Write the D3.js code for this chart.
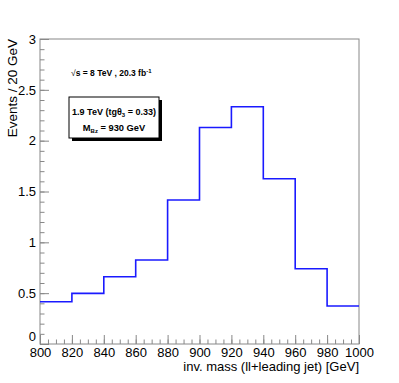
<!DOCTYPE html>
<html>
<head>
<meta charset="utf-8">
<script src="https://cdn.jsdelivr.net/npm/d3@7"></script>
<style>
  body { margin: 0; background: #fff; }
  text { font-family: "Liberation Sans", Arial, sans-serif; }
</style>
</head>
<body>
<svg id="chart" width="399" height="383"></svg>
<script>
// bin edges (GeV) and events per bin
const binEdges = [800, 820, 840, 860, 880, 900, 920, 940, 960, 980, 1000];
const events = [0.416, 0.498, 0.662, 0.826, 1.416, 2.13, 2.333, 1.625, 0.74, 0.374];

const yTicks = [0, 0.5, 1, 1.5, 2, 2.5, 3];
const yTickLabels = ["0", "0.5", "1", "1.5", "2", "2.5", "3"];
const xTicks = [800, 820, 840, 860, 880, 900, 920, 940, 960, 980, 1000];

const svg = d3.select("#chart");
const padL = 40, padR = 359, padT = 39, padB = 344;

const x = d3.scaleLinear().domain([800, 1000]).range([padL, padR]);
const y = d3.scaleLinear().domain([0, 3]).range([padB, padT]);

// frame
svg.append("rect")
  .attr("x", padL).attr("y", padT)
  .attr("width", padR - padL).attr("height", padB - padT)
  .attr("fill", "none").attr("stroke", "#888").attr("stroke-width", 1);

// minor ticks
svg.append("g").attr("transform", `translate(${padL},0)`)
  .call(d3.axisLeft(y).tickValues(d3.range(0, 3.001, 0.1)).tickSize(-4.5).tickFormat(""))
  .call(g => g.select(".domain").remove());
svg.append("g").attr("transform", `translate(0,${padB})`)
  .call(d3.axisBottom(x).tickValues(d3.range(800, 1000.1, 5)).tickSize(-4.5).tickFormat(""))
  .call(g => g.select(".domain").remove());

// major ticks + labels
const yAxis = svg.append("g").attr("transform", `translate(${padL},0)`)
  .call(d3.axisLeft(y).tickValues(yTicks).tickSize(-9).tickPadding(4)
    .tickFormat((d, i) => yTickLabels[i]));
yAxis.select(".domain").remove();

const xAxis = svg.append("g").attr("transform", `translate(0,${padB})`)
  .call(d3.axisBottom(x).tickValues(xTicks).tickSize(-9).tickPadding(4)
    .tickFormat(d3.format("d")));
xAxis.select(".domain").remove();

svg.selectAll(".tick line").attr("stroke", "#888");
svg.selectAll(".tick text").attr("font-size", 13).attr("fill", "#000")
  .attr("font-family", "Liberation Sans, Arial, sans-serif");
// lift the "0" so it sits above the 800 label
yAxis.selectAll(".tick text").filter(d => d === 0).attr("dy", "-0.3em");

// histogram step line
const pts = [];
events.forEach((v, i) => {
  pts.push([x(binEdges[i]), y(v)]);
  pts.push([x(binEdges[i + 1]), y(v)]);
});
svg.append("path")
  .attr("d", d3.line()(pts))
  .attr("fill", "none").attr("stroke", "#1a1aff").attr("stroke-width", 1.6);

// axis titles
svg.append("text")
  .attr("x", padR).attr("y", 371)
  .attr("text-anchor", "end").attr("font-size", 13)
  .text("inv. mass (ll+leading jet) [GeV]");

svg.append("text")
  .attr("transform", `translate(17,${padT}) rotate(-90)`)
  .attr("text-anchor", "end").attr("font-size", 13.5)
  .text("Events / 20 GeV");

// energy / lumi label
const lumi = svg.append("text")
  .attr("x", 71).attr("y", 76)
  .attr("font-size", 8.5).attr("font-weight", "bold");
lumi.append("tspan").attr("font-weight", "normal").text("\u221A");
lumi.append("tspan").text("s = 8 TeV , 20.3 fb");
lumi.append("tspan").attr("font-size", 6).attr("dy", -3.5).text("-1");

// box with shadow
const bx = 69, by = 97, bw = 90, bh = 41;
svg.append("rect").attr("x", bx + 3).attr("y", by + 3).attr("width", bw).attr("height", bh)
  .attr("fill", "#000");
svg.append("rect").attr("x", bx).attr("y", by).attr("width", bw).attr("height", bh)
  .attr("fill", "#fff").attr("stroke", "#000").attr("stroke-width", 1);

const l1 = svg.append("text").attr("x", bx + bw / 2).attr("y", 115)
  .attr("text-anchor", "middle").attr("font-size", 9).attr("font-weight", "bold");
l1.append("tspan").text("1.9 TeV (tg\u03B8");
l1.append("tspan").attr("font-size", 6).attr("dy", 2).text("3");
l1.append("tspan").attr("dy", -2).text(" = 0.33)");

const l2 = svg.append("text").attr("x", bx + bw / 2).attr("y", 131)
  .attr("text-anchor", "middle").attr("font-size", 9.3).attr("font-weight", "bold");
l2.append("tspan").text("M");
l2.append("tspan").attr("font-size", 6).attr("dy", 2).text("Bz");
l2.append("tspan").attr("dy", -2).text(" = 930 GeV");
</script>
</body>
</html>
